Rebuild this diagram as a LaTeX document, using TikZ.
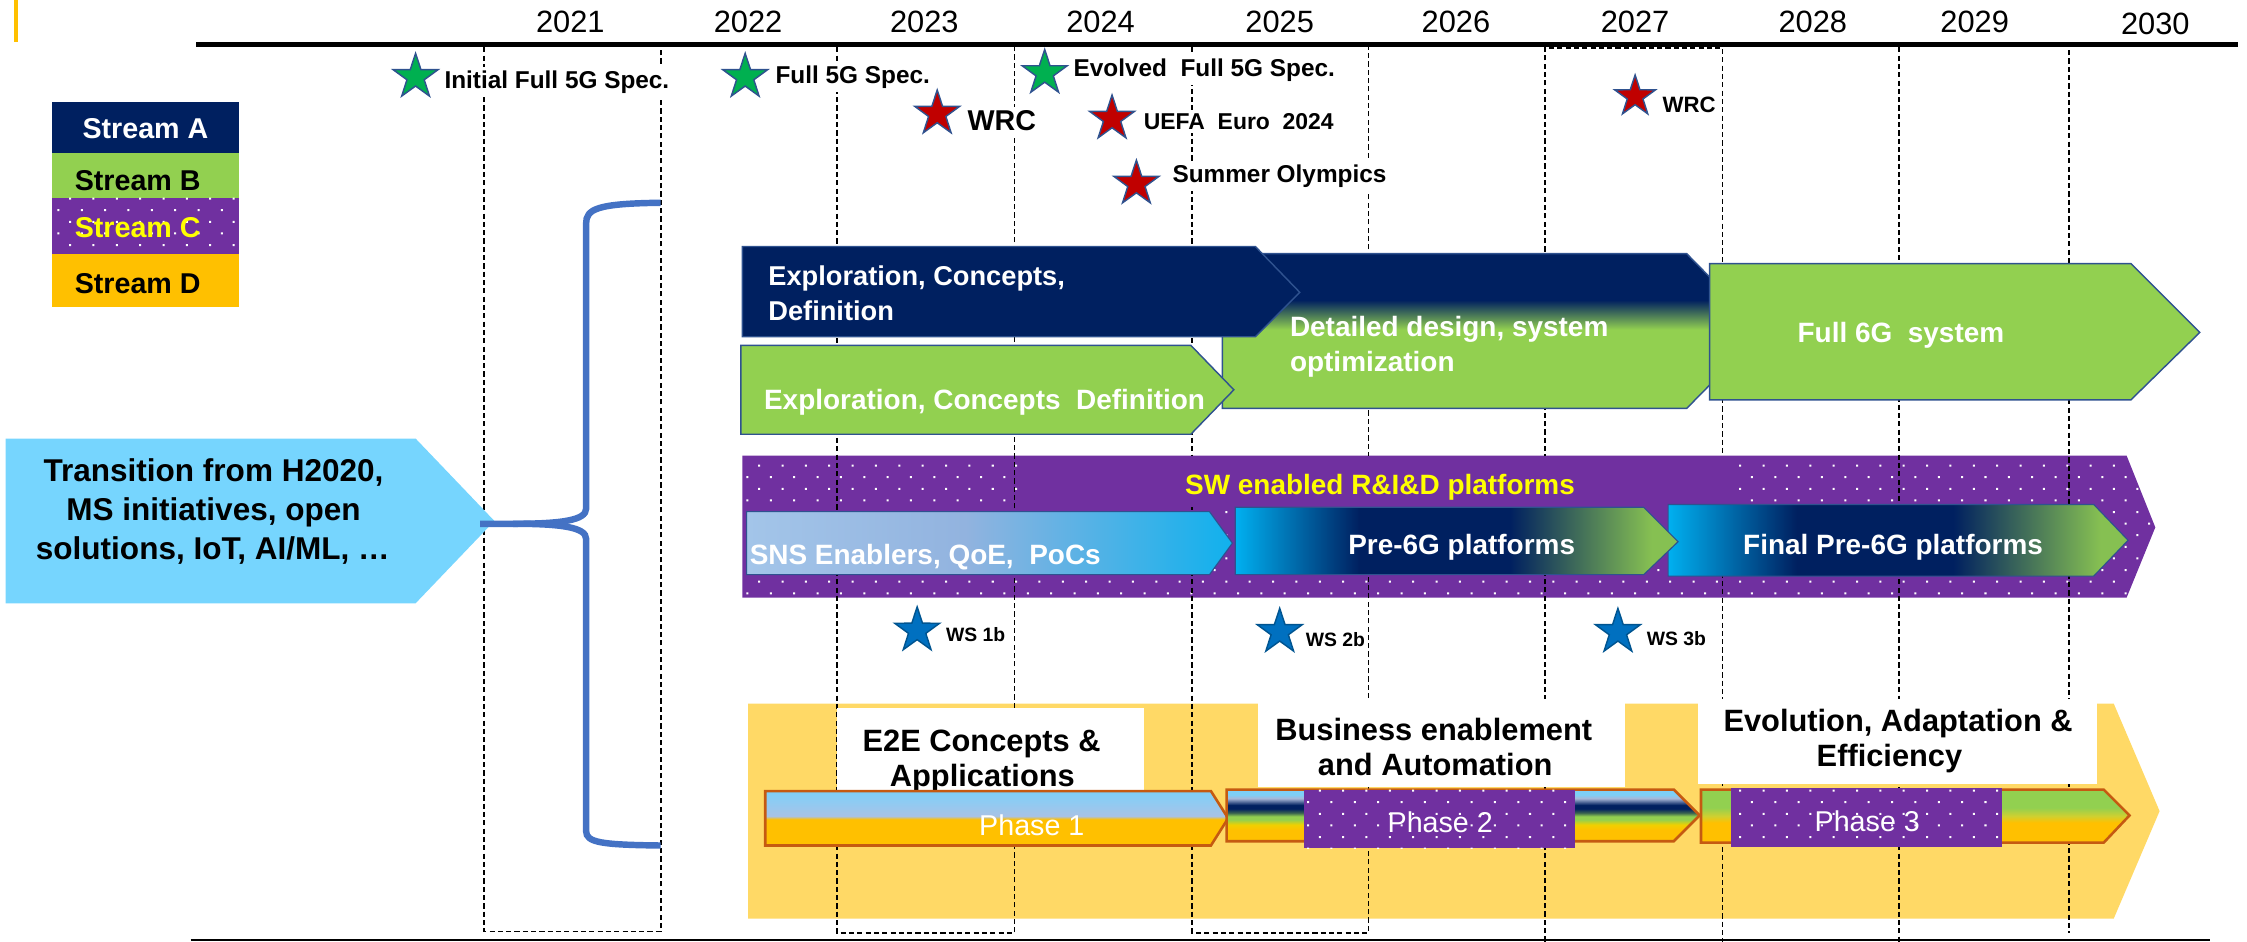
\documentclass[tikz,border=0pt]{standalone}
\usepackage{fontspec}
\setmainfont{Liberation Sans}
\usetikzlibrary{shapes.geometric,patterns}
\definecolor{cnavy}{HTML}{002060}
\definecolor{cgreen}{HTML}{92D050}
\definecolor{cpurple}{HTML}{7030A0}
\definecolor{corange}{HTML}{FFC000}
\definecolor{cband}{HTML}{FFD966}
\definecolor{ccyanarrow}{HTML}{76D5FE}
\definecolor{cbrace}{HTML}{4472C4}
\definecolor{cline}{HTML}{2F528F}
\definecolor{cphline}{HTML}{C55A11}
\definecolor{cstarg}{HTML}{00B050}
\definecolor{cstarr}{HTML}{C00000}
\definecolor{cstarb}{HTML}{0070C0}
\definecolor{cyel}{HTML}{FFFF00}
\definecolor{ccyan}{HTML}{00B0F0}
\definecolor{cgreenb}{HTML}{86C052}
\definecolor{snsl}{HTML}{A3C5E9}
\definecolor{snsm}{HTML}{92B3DF}
\definecolor{snsr}{HTML}{10B1ED}
\definecolor{lbA}{HTML}{7ECFF6}
\definecolor{lbB}{HTML}{8FCBF2}
\definecolor{lavA}{HTML}{A8C2E6}
\definecolor{lavB}{HTML}{A8B8D8}
\definecolor{dkg}{HTML}{3A6450}
\definecolor{yelg}{HTML}{F0D000}
\definecolor{grY}{HTML}{D0D030}
\pgfdeclareverticalshading{detshade}{100bp}{color(0bp)=(cgreen); color(50.5bp)=(cgreen); color(60bp)=(cnavy); color(100bp)=(cnavy)}
\pgfdeclarehorizontalshading{preshade}{100bp}{color(0bp)=(ccyan); color(25bp)=(ccyan); color(39bp)=(cnavy); color(56bp)=(cnavy); color(72bp)=(cgreenb); color(100bp)=(cgreenb)}
\pgfdeclarehorizontalshading{snsshade}{100bp}{color(0bp)=(snsl); color(25bp)=(snsl); color(47.5bp)=(snsm); color(75bp)=(snsr); color(100bp)=(snsr)}
\pgfdeclareverticalshading{ph1shade}{100bp}{color(0bp)=(corange); color(49bp)=(corange); color(52bp)=(lavA); color(65bp)=(lbB); color(75bp)=(lbA); color(100bp)=(lbA)}
\pgfdeclareverticalshading{ph2shade}{100bp}{color(0bp)=(corange); color(36bp)=(corange); color(41bp)=(yelg); color(46bp)=(cgreen); color(49bp)=(cgreen); color(52.5bp)=(dkg); color(56.5bp)=(cnavy); color(60bp)=(cnavy); color(66.5bp)=(lavB); color(70bp)=(lbA); color(100bp)=(lbA)}
\pgfdeclareverticalshading{ph3shade}{100bp}{color(0bp)=(corange); color(44bp)=(corange); color(50bp)=(grY); color(58bp)=(cgreen); color(100bp)=(cgreen)}
\pgfdeclarepatternformonly{wdots}{\pgfqpoint{-1pt}{-1pt}}{\pgfqpoint{17.3pt}{17.2pt}}{\pgfqpoint{16.3pt}{16.2pt}}{%
  \pgfpathrectangle{\pgfqpoint{-0.7pt}{-0.7pt}}{\pgfqpoint{1.4pt}{1.4pt}}%
  \pgfpathrectangle{\pgfqpoint{7.45pt}{7.4pt}}{\pgfqpoint{1.4pt}{1.4pt}}%
  \pgfusepath{fill}}
\tikzset{
  dline/.style={line width=1.25pt, dash pattern=on 3.6pt off 2.2pt},
  dotsfill/.style={preaction={fill=cpurple}, pattern=wdots, pattern color=white},
  arrline/.style={draw=cline, line width=1pt},
  phln/.style={draw=cphline, line width=1.8pt},
  starbase/.style={star, star points=5, star point ratio=2.6, minimum size=33pt, inner sep=0pt, draw=cline, line width=1pt},
  gstar/.style={starbase, fill=cstarg},
  rstar/.style={starbase, fill=cstarr},
  bstar/.style={starbase, fill=cstarb, draw=cstarb!75!black},
  fb/.style={font=\fontsize{#1}{#1}\selectfont\bfseries, inner sep=0pt},
  fr/.style={font=\fontsize{#1}{#1}\selectfont, inner sep=0pt},
  evlbl/.style={fb=#1, anchor=base west, fill=white, inner sep=2.5pt},
}
\begin{document}
\begin{tikzpicture}[x=1pt,y=-1pt]
\useasboundingbox (0,0) rectangle (1568,657);
% ---------- Stream D band and Stream C band
\path[fill=cband] (522,491) -- (1475,491) -- (1507,566) -- (1475,641) -- (522,641) -- cycle;
\path[dotsfill] (518,318) -- (1484,318) -- (1504,368) -- (1484,417) -- (518,417) -- cycle;
% ---------- dashed year columns
\draw[dline] (338,33) -- (338,650) -- (461,650) -- (461,33);
\draw[dline] (584,33) -- (584,651) -- (708,651) -- (708,33);
\draw[dline] (832,33) -- (832,651) -- (955,651) -- (955,33);
\draw[dline] (1078,657) -- (1078,33.5) -- (1202,33.5) -- (1202,657);
\draw[dline] (1325,33) -- (1325,657);
\draw[dline] (1444,35) -- (1444,651);
% ---------- Stream C title
\fill[cpurple] (715,318) rectangle (1210,354);
\node[fb=19.5, text=cyel, anchor=base] (sw) at (963,345) {SW enabled R\&I\&D platforms};
% ---------- Stream D titles
\fill[white] (584,494) rectangle (798,551);
\fill[white] (878,488) rectangle (1134,549);
\fill[white] (1185,488) rectangle (1463,547);
\node[fb=21.5, anchor=base] (e2ea) at (685,524.1) {E2E Concepts \&};
\node[fb=21.5, anchor=base] (e2eb) at (685.5,549.1) {Applications};
\node[fb=21.5, anchor=base] (busa) at (1000.5,516.9) {Business enablement};
\node[fb=21.5, anchor=base] (busb) at (1001.5,541.3) {and Automation};
\node[fb=21.5, anchor=base] (evoa) at (1324.5,510.1) {Evolution, Adaptation \&};
\node[fb=21.5, anchor=base] (evob) at (1318.5,534.6) {Efficiency};
% ---------- Phases
\path[phln, shading=ph1shade] (534,552) -- (845,552) -- (857,571) -- (845,590) -- (534,590) -- cycle;
\node[fr=20, text=white, anchor=base] (ph1) at (720,582.9) {Phase 1};
\path[phln, shading=ph2shade] (856,551) -- (1168,551) -- (1186,569) -- (1168,587) -- (856,587) -- cycle;
\path[dotsfill] (910,551) rectangle (1099,592);
\node[fr=20, text=white, anchor=base] (ph2) at (1005,580.8) {Phase 2};
\path[phln, shading=ph3shade] (1187,551) -- (1468,551) -- (1486,569) -- (1468,588) -- (1187,588) -- cycle;
\path[dotsfill] (1208,550) rectangle (1397,591);
\node[fr=20, text=white, anchor=base] (ph3) at (1303,580) {Phase 3};
% ---------- Stream C arrows
\path[draw=cline, line width=0.8pt, shading=snsshade] (521,357) -- (844,357) -- (860,379) -- (844,401) -- (521,401) -- cycle;
\node[fb=19.5, text=white, anchor=base west] (sns) at (523,393.7) {SNS Enablers, QoE,\ \ PoCs};
\path[draw=cline, line width=0.8pt, shading=preshade] (1164,352) -- (1461,352) -- (1485,377) -- (1461,402) -- (1164,402) -- cycle;
\path[draw=cline, line width=0.8pt, shading=preshade] (862,354) -- (1147,354) -- (1171,378) -- (1147,401) -- (862,401) -- cycle;
\node[fb=19.5, text=white, anchor=base] (pre) at (1020,386.7) {Pre-6G platforms};
\node[fb=19.5, text=white, anchor=base] (fin) at (1321,386.7) {Final Pre-6G platforms};
% ---------- Streams A / B
\path[arrline, shading=detshade] (853,177) -- (1177,177) -- (1230,231) -- (1177,285) -- (853,285) -- cycle;
\path[arrline, fill=cgreen] (1193,184) -- (1487,184) -- (1535,232) -- (1487,279) -- (1193,279) -- cycle;
\path[arrline, fill=cnavy] (518,172) -- (876,172) -- (907,204) -- (876,235) -- (518,235) -- cycle;
\path[arrline, fill=cgreen] (517,241) -- (831,241) -- (861,272) -- (831,303) -- (517,303) -- cycle;
\node[fb=19, text=white, anchor=base west] (na1) at (536,199.3) {Exploration, Concepts,};
\node[fb=19, text=white, anchor=base west] (na2) at (536,223.8) {Definition};
\node[fb=19.5, text=white, anchor=base west] (det1) at (900,235) {Detailed design, system};
\node[fb=19.5, text=white, anchor=base west] (det2) at (900,259.5) {optimization};
\node[fb=19.5, text=white, anchor=base west] (gb1) at (533,285.5) {Exploration, Concepts\ \ Definition};
\node[fb=19.5, text=white, anchor=base] (f6g) at (1326.5,239) {Full 6G\ \ system};
% ---------- timeline
\draw[line width=3.5pt] (137,31) -- (1562,31);
\draw[line width=1.3pt] (133,655.8) -- (1542,655.8);
\foreach \yr/\xx/\yy in {2021/398/22.4, 2022/522/22.4, 2023/645/22.4, 2024/768/22.4, 2025/893/22.4, 2026/1016/22.4, 2027/1141/22.4, 2028/1265/22.4, 2029/1378/22.4, 2030/1504/24}
  \node[fr=21.5, anchor=base] (y\yr) at (\xx,\yy) {\yr};
% ---------- milestones
\node[evlbl=17] (l1) at (307.5,61.5) {Initial Full 5G Spec.};
\node[evlbl=17] (l2) at (538.5,58.1) {Full 5G Spec.};
\node[evlbl=17] (l3) at (746.5,53.3) {Evolved\ \ Full 5G Spec.};
\node[evlbl=20] (l4) at (672.5,91.2) {WRC};
\node[evlbl=16] (l5) at (795.5,90.1) {UEFA\ \ Euro\ \ 2024};
\node[evlbl=17] (l6) at (815.5,127.5) {Summer Olympics};
\node[evlbl=15.5] (l7) at (1157.5,78.3) {WRC};
\node[evlbl=13.5, inner sep=1.5pt] (l8) at (658.5,447.3) {WS 1b};
\node[evlbl=13.5, inner sep=1.5pt] (l9) at (909.5,450.8) {WS 2b};
\node[evlbl=13.5, inner sep=1.5pt] (l10) at (1147.5,450.2) {WS 3b};
\node[gstar] (s1) at (290,53.7) {};
\node[gstar] (s2) at (520,53.7) {};
\node[gstar] (s3) at (729,51) {};
\node[rstar] (s4) at (654,79.3) {};
\node[rstar] (s5) at (776,82.8) {};
\node[rstar] (s6) at (793,128.2) {};
\node[rstar, minimum size=30pt] (s7) at (1141,67.3) {};
\node[bstar] (s8) at (640,440) {};
\node[bstar] (s9) at (893,441) {};
\node[bstar] (s10) at (1129,441) {};
% ---------- transition arrow and brace
\fill[ccyanarrow] (4,306) -- (290,306) -- (345,363.5) -- (290,421) -- (4,421) -- cycle;
\node[fb=22, anchor=base] (t1) at (149,336.2) {Transition from H2020,};
\node[fb=22, anchor=base] (t2) at (149,363.2) {MS initiatives, open};
\node[fb=22, anchor=base] (t3) at (148.5,390.2) {solutions, IoT, AI/ML, \ldots};
\coordinate (brtop) at (461,141.5);
\coordinate (brmid) at (335,365.5);
\coordinate (brbot) at (461,590);
\draw[cbrace, line width=4.5pt] (brtop) .. controls (416,142) and (409,146) .. (409,156) -- (409,355)
   .. controls (409,363) and (392,365.5) .. (358,365.5) -- (brmid);
\draw[cbrace, line width=4.5pt] (358,365.5) .. controls (392,365.5) and (409,368) .. (409,376) -- (409,580)
   .. controls (409,588) and (420,589.5) .. (brbot);
% ---------- legend
\fill[cnavy] (36,71) rectangle (167,107);
\fill[cgreen] (36,107) rectangle (167,138);
\path[dotsfill] (36,138) rectangle (167,177);
\fill[corange] (36,177) rectangle (167,214);
\node[fb=20, text=white, anchor=base] (sa) at (101.5,96.7) {Stream A};
\node[fb=20, anchor=base west] (sb) at (52,132.7) {Stream B};
\node[fb=20, text=cyel, anchor=base west] (sc) at (52,165.7) {Stream C};
\node[fb=20, anchor=base west] (sd) at (52,204.7) {Stream D};
% ---------- corner mark
\fill[corange] (10,0) rectangle (12.5,29);
\end{tikzpicture}
\end{document}
